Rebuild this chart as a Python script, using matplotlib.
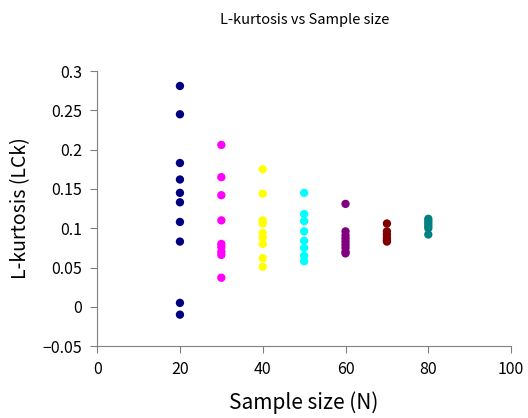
import matplotlib
matplotlib.use("Agg")
import matplotlib.pyplot as plt

plt.rcParams['font.family'] = ['Noto Sans CJK JP', 'DejaVu Sans']

# L-kurtosis estimates per sample size
n20 = [0.281, 0.245, 0.183, 0.162, 0.145, 0.133, 0.108, 0.083, 0.005, -0.010]
n30 = [0.206, 0.165, 0.142, 0.110, 0.080, 0.076, 0.070, 0.066, 0.037]
n40 = [0.175, 0.144, 0.110, 0.106, 0.094, 0.088, 0.080, 0.062, 0.051]
n50 = [0.145, 0.118, 0.109, 0.096, 0.084, 0.075, 0.065, 0.058]
n60 = [0.131, 0.096, 0.091, 0.087, 0.083, 0.079, 0.075, 0.070, 0.068]
n70 = [0.106, 0.096, 0.092, 0.088, 0.085, 0.083]
n80 = [0.112, 0.109, 0.106, 0.103, 0.100, 0.092]

sizes = [20, 30, 40, 50, 60, 70, 80]
groups = [n20, n30, n40, n50, n60, n70, n80]
colors = ['#000080', '#ff00ff', '#ffff00', '#00ffff', '#800080', '#800000', '#008080']

fig = plt.figure(figsize=(5.28, 4.18), dpi=100)
ax = fig.add_axes([0.184, 0.172, 0.784, 0.658])

for n, vals, c in zip(sizes, groups, colors):
    ax.scatter([n] * len(vals), vals, s=36, color=c, edgecolors='none', zorder=3)

ax.set_xlim(0, 100)
ax.set_ylim(-0.05, 0.3)
ax.set_xticks([0, 20, 40, 60, 80, 100])
ax.set_yticks([-0.05, 0, 0.05, 0.1, 0.15, 0.2, 0.25, 0.3])
ax.set_yticklabels(['\u22120.05', '0', '0.05', '0.1', '0.15', '0.2', '0.25', '0.3'])

for side in ['top', 'right']:
    ax.spines[side].set_visible(False)
for side in ['left', 'bottom']:
    ax.spines[side].set_color('#808080')
ax.tick_params(direction='out', length=5, color='#808080', labelsize=11.5, pad=6)

ax.set_xlabel('Sample size (N)', fontsize=15, labelpad=9)
ax.set_ylabel('L-kurtosis (LCk)', fontsize=14, labelpad=8)
fig.text(0.578, 0.952, 'L-kurtosis vs Sample size', ha='center', va='center', fontsize=10.5)

plt.savefig('out.png', dpi=100)
plt.close()
